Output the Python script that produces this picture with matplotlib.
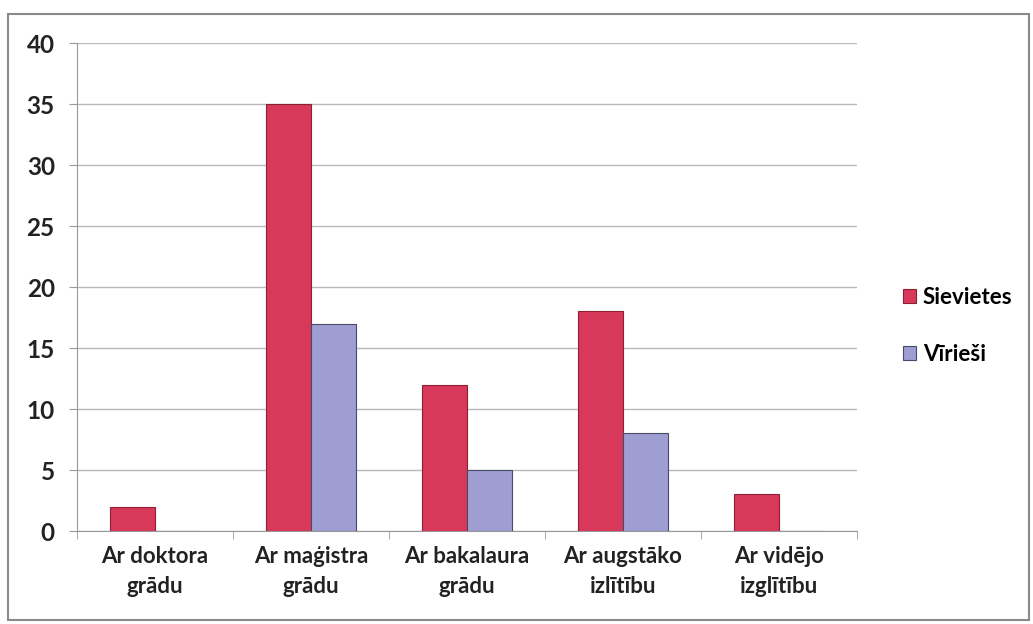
import matplotlib.pyplot as plt
import numpy as np
from matplotlib.patches import Rectangle

categories = ['Ar doktora\ngrādu', 'Ar maģistra\ngrādu', 'Ar bakalaura\ngrādu',
              'Ar augstāko\nizlītību', 'Ar vidējo\nizglītību']
sievietes = [2, 35, 12, 18, 3]
virieSi = [0, 17, 5, 8, 0]
series_names = ['Sievietes', 'Vīrieši']

plt.rcParams['font.family'] = ['Lato', 'DejaVu Sans']
plt.rcParams['font.weight'] = 'bold'

fig = plt.figure(figsize=(10.33, 6.24), dpi=100)
ax = fig.add_axes([0.0745, 0.149, 0.755, 0.782])

# outer frame
fig.patches.append(Rectangle((0.008, 0.006), 0.988, 0.972, transform=fig.transFigure,
                             fill=False, edgecolor='#8a8a8a', linewidth=1.5))

x = np.arange(len(categories))
w = 0.29
ax.bar(x - w / 2, sievietes, w, color='#d8385a', edgecolor='#8e2035',
       linewidth=0.8, label=series_names[0], zorder=3)
ax.bar(x + w / 2, virieSi, w, color='#9e9ed2', edgecolor='#4a4a6a',
       linewidth=0.8, label=series_names[1], zorder=3)

ax.set_xlim(-0.5, len(categories) - 0.5)
ax.set_ylim(0, 40)
ax.set_yticks(np.arange(0, 41, 5))
ax.set_xticks(x)
ax.set_xticklabels(categories, fontsize=16, color='#222222', linespacing=1.5)
ax.set_xticks(np.arange(-0.5, len(categories), 1), minor=True)
ax.tick_params(axis='x', which='major', length=0, pad=11)
ax.tick_params(axis='x', which='minor', length=6, color='#999999')
ax.tick_params(axis='y', length=6, color='#999999', labelsize=17.5, labelcolor='#222222', pad=10)

ax.yaxis.grid(True, color='#b8b8bf', linewidth=1)
ax.set_axisbelow(True)
for s in ['top', 'right']:
    ax.spines[s].set_visible(False)
ax.spines['left'].set_color('#999999')
ax.spines['bottom'].set_color('#999999')

ax.legend(loc='center left', bbox_to_anchor=(0.874, 0.478), bbox_transform=fig.transFigure,
          frameon=False, fontsize=16, handlelength=0.6, handleheight=0.6, handletextpad=0.3,
          labelspacing=1.6, borderaxespad=0, borderpad=0)

fig.savefig('out.png', dpi=100)
